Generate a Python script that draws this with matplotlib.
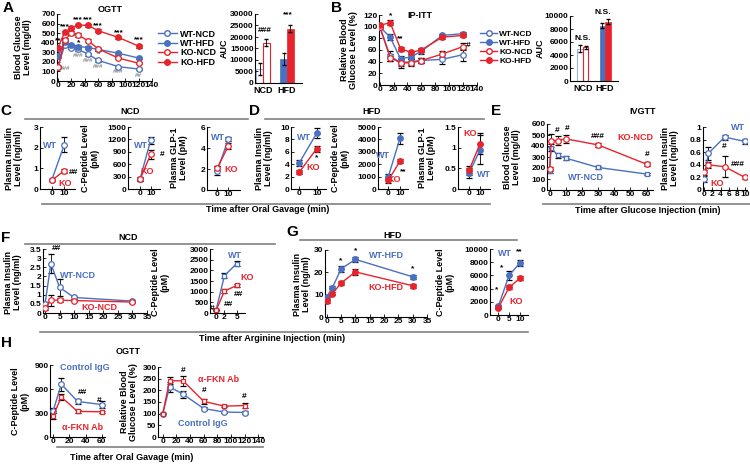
import matplotlib
matplotlib.use('Agg')
import matplotlib.pyplot as plt
from matplotlib.lines import Line2D

plt.rcParams['font.family'] = ['Liberation Sans', 'DejaVu Sans']
plt.rcParams['font.weight'] = 'bold'
plt.rcParams['axes.linewidth'] = 0.8

BLUE = '#4a70c0'
RED = '#e8232b'
W, H = 750, 466

# ---------------- data ----------------
# A: OGTT
a_t = [0, 10, 20, 30, 45, 60, 90, 120]
a_wt_ncd = [150, 375, 350, 330, 280, 215, 150, 125]
a_wt_ncd_err = [10, 20, 15, 15, 15, 12, 10, 10]
a_wt_hfd = [265, 405, 375, 360, 350, 330, 290, 240]
a_wt_hfd_err = [20, 20, 15, 15, 15, 15, 15, 15]
a_ko_ncd = [145, 430, 500, 480, 420, 335, 240, 185]
a_ko_ncd_err = [10, 20, 20, 20, 15, 15, 12, 10]
a_ko_hfd = [350, 510, 555, 585, 580, 525, 455, 365]
a_ko_hfd_err = [15, 15, 15, 15, 15, 15, 15, 15]
groups = ['NCD', 'HFD']
a_auc_wt = [6000, 10500]
a_auc_wt_err = [2500, 2500]
a_auc_ko = [17500, 23500]
a_auc_ko_err = [1500, 1500]

# B: IP-ITT
b_t = [0, 15, 30, 45, 60, 90, 120]
b_wt_ncd = [100, 50, 38, 40, 42, 44, 52]
b_wt_ncd_err = [2, 8, 6, 6, 4, 8, 10]
b_wt_hfd = [100, 82, 45, 48, 58, 85, 88]
b_wt_hfd_err = [2, 5, 4, 4, 4, 3, 3]
b_ko_ncd = [100, 47, 38, 38, 42, 53, 66]
b_ko_ncd_err = [2, 6, 8, 6, 5, 5, 6]
b_ko_hfd = [102, 107, 62, 56, 60, 82, 85]
b_ko_hfd_err = [2, 5, 4, 3, 3, 3, 3]
b_auc_wt = [5000, 8500]
b_auc_wt_err = [600, 400]
b_auc_ko = [5200, 9100]
b_auc_ko_err = [250, 400]

# C / D: oral gavage, 0 and 10 min
cd_t = [0, 10]
c1_wt, c1_wt_err = [0.42, 2.15], [0.05, 0.35]
c1_ko, c1_ko_err = [0.42, 0.88], [0.05, 0.1]
c2_wt, c2_wt_err = [240, 1180], [40, 80]
c2_ko, c2_ko_err = [230, 840], [30, 110]
c3_wt, c3_wt_err = [1.85, 4.85], [0.4, 0.2]
c3_ko, c3_ko_err = [2.1, 4.2], [0.2, 0.3]
d1_wt, d1_wt_err = [4.2, 9.0], [0.5, 0.8]
d1_ko, d1_ko_err = [2.7, 6.5], [0.3, 0.5]
d2_wt, d2_wt_err = [1000, 4100], [200, 450]
d2_ko, d2_ko_err = [700, 2250], [250, 150]
d3_wt, d3_wt_err = [0.38, 0.95], [0.12, 0.35]
d3_ko, d3_ko_err = [0.45, 1.1], [0.1, 0.25]

# E: IVGTT
e1_t = [0, 1, 5, 10, 30, 60]
e1_ko, e1_ko_err = [190, 450, 450, 465, 410, 235], [20, 60, 40, 35, 20, 20]
e1_wt, e1_wt_err = [175, 385, 315, 290, 205, 145], [20, 30, 20, 15, 10, 8]
e2_t = [0, 1, 5, 10]
e2_wt, e2_wt_err = [0.18, 0.58, 0.84, 0.77], [0.05, 0.1, 0.04, 0.04]
e2_ko, e2_ko_err = [0.28, 0.40, 0.37, 0.20], [0.04, 0.05, 0.17, 0.03]

# F / G: arginine
fg_t = [0, 2, 5, 10, 30]
f1_wt, f1_wt_err = [0.5, 2.7, 1.4, 0.85, 0.65], [0.1, 0.5, 0.45, 0.1, 0.05]
f1_ko, f1_ko_err = [0.25, 0.7, 0.7, 0.68, 0.6], [0.08, 0.3, 0.1, 0.05, 0.05]
f2_t = [0, 2, 5]
f2_wt, f2_wt_err = [150, 1750, 2320], [30, 120, 100]
f2_ko, f2_ko_err = [130, 1030, 1290], [30, 80, 80]
g1_wt, g1_wt_err = [9, 13.2, 21.5, 25.8, 18], [0.8, 0.8, 1.2, 1.0, 0.8]
g1_ko, g1_ko_err = [7, 10.5, 15.2, 20.2, 14], [0.6, 0.8, 0.8, 1.5, 1.0]
g2_t = [0, 5, 10]
g2_wt, g2_wt_err = [1300, 6000, 7900], [200, 700, 500]
g2_ko, g2_ko_err = [1050, 4200, 5550], [150, 300, 300]

# H: antibody OGTT
h1_t = [0, 10, 30, 60]
h1_ctrl, h1_ctrl_err = [330, 660, 445, 405], [30, 80, 30, 40]
h1_fkn, h1_fkn_err = [265, 500, 320, 315], [40, 40, 15, 10]
h2_t = [0, 10, 30, 60, 90, 120]
h2_ctrl, h2_ctrl_err = [100, 215, 183, 122, 107, 105], [3, 20, 15, 8, 5, 5]
h2_fkn, h2_fkn_err = [100, 242, 240, 153, 132, 135], [3, 15, 20, 10, 5, 12]

# ---------------- helpers ----------------
fig = plt.figure(figsize=(7.5, 4.66), dpi=100)


def px_ax(x0, y0, x1, y1):
    return fig.add_axes([x0 / W, 1 - y1 / H, (x1 - x0) / W, (y1 - y0) / H])


def ftext(x, y, s, size=6, color='black', **kw):
    kw.setdefault('ha', 'center')
    kw.setdefault('va', 'center')
    fig.text(x / W, 1 - y / H, s, fontsize=size, color=color, fontweight='bold', **kw)


def hline(x0, x1, y):
    fig.add_artist(Line2D([x0 / W, x1 / W], [1 - y / H, 1 - y / H],
                          transform=fig.transFigure, color='#808080', lw=1.2))


def style(ax, xlim, ylim, xticks, yticks):
    for s in ['top', 'right']:
        ax.spines[s].set_visible(False)
    ax.set_xlim(*xlim)
    ax.set_ylim(*ylim)
    ax.set_xticks(xticks, ['%g' % v for v in xticks])
    ax.set_yticks(yticks, ['%g' % v for v in yticks])
    ax.tick_params(labelsize=6, length=2, width=0.6, pad=1, direction='in')
    ax.patch.set_alpha(0)


def series(ax, x, y, err, color, filled, marker='o', ms=4):
    ax.errorbar(x, y, yerr=err, color=color, lw=1, marker=marker, ms=ms,
                mfc=color if filled else 'white', mec=color, mew=0.9,
                ecolor='black', elinewidth=0.6, capsize=2, capthick=0.6, zorder=3)


def auc(ax, wt, wt_err, ko, ko_err, ymax, step, bw):
    pos = [1, 2]
    ax.bar(pos[0] - bw / 2, wt[0], bw, yerr=wt_err[0], color='white', edgecolor='#9db3e0', lw=0.8,
           error_kw=dict(elinewidth=0.6, capsize=1.5))
    ax.bar(pos[0] + bw / 2, ko[0], bw, yerr=ko_err[0], color='white', edgecolor=RED, lw=0.8,
           error_kw=dict(elinewidth=0.6, capsize=1.5))
    ax.bar(pos[1] - bw / 2, wt[1], bw, yerr=wt_err[1], color=BLUE, edgecolor=BLUE, lw=0.5,
           error_kw=dict(elinewidth=0.6, capsize=1.5))
    ax.bar(pos[1] + bw / 2, ko[1], bw, yerr=ko_err[1], color=RED, edgecolor=RED, lw=0.5,
           error_kw=dict(elinewidth=0.6, capsize=1.5))
    for s in ['top', 'right']:
        ax.spines[s].set_visible(False)
    ax.set_ylim(0, ymax)
    yt = list(range(0, ymax + 1, step))
    ax.set_yticks(yt, [str(v) for v in yt])
    ax.set_xticks(pos, groups)
    ax.tick_params(axis='y', labelsize=6, length=2, width=0.6, pad=1, direction='in')
    ax.tick_params(axis='x', labelsize=6.5, length=0, pad=2)


# ---------------- A ----------------
ax = px_ax(57, 14, 152, 81)
series(ax, a_t, a_wt_ncd, a_wt_ncd_err, BLUE, False)
series(ax, a_t, a_wt_hfd, a_wt_hfd_err, BLUE, True)
series(ax, a_t, a_ko_ncd, a_ko_ncd_err, RED, False)
series(ax, a_t, a_ko_hfd, a_ko_hfd_err, RED, True)
style(ax, (-1.5, 140), (0, 700), list(range(0, 141, 20)), list(range(0, 701, 100)))
for x, y in [(3, 425), (10, 565), (30, 640), (45, 640), (60, 575), (90, 500), (120, 430)]:
    ax.text(x, y, '***', fontsize=6, ha='center', va='center')
for x, y in [(30, 395), (60, 290)]:
    ax.text(x, y, '*', fontsize=6, ha='center', va='center')
for x, y, s in [(10, 130, '###'), (30, 268, '###'), (45, 215, '###'), (60, 155, '###'),
                (90, 95, '###'), (120, 55, '##')]:
    ax.text(x, y, s, fontsize=4.5, color='#888888', ha='center', va='center')
handles = [Line2D([], [], color=BLUE, marker='o', ms=4, mfc='white', lw=1),
           Line2D([], [], color=BLUE, marker='o', ms=4, lw=1),
           Line2D([], [], color=RED, marker='o', ms=4, mfc='white', lw=1),
           Line2D([], [], color=RED, marker='o', ms=4, lw=1)]
fig.legend(handles, ['WT-NCD', 'WT-HFD', 'KO-NCD', 'KO-HFD'], frameon=False,
           fontsize=6.5, labelspacing=0.05, handlelength=2.2, handletextpad=0.3,
           loc='upper left', bbox_to_anchor=(153 / W, 1 - 25 / H), borderpad=0)
fig.legend(handles, ['WT-NCD', 'WT-HFD', 'KO-NCD', 'KO-HFD'], frameon=False,
           fontsize=6, labelspacing=0.15, handlelength=2.0, handletextpad=0.3,
           loc='upper left', bbox_to_anchor=(476 / W, 1 - 26 / H), borderpad=0)

ax = px_ax(255, 14, 302, 83)
auc(ax, a_auc_wt, a_auc_wt_err, a_auc_ko, a_auc_ko_err, 30000, 5000, 0.28)
ax.set_xlim(0.67, 2.62)

# ---------------- B ----------------
ax = px_ax(379, 15, 477, 85)
series(ax, b_t, b_wt_ncd, b_wt_ncd_err, BLUE, False)
series(ax, b_t, b_wt_hfd, b_wt_hfd_err, BLUE, True)
series(ax, b_t, b_ko_ncd, b_ko_ncd_err, RED, False)
series(ax, b_t, b_ko_hfd, b_ko_hfd_err, RED, True)
style(ax, (-1, 140), (0, 120), list(range(0, 141, 20)), list(range(0, 121, 20)))
ax.text(15, 119, '*', fontsize=6, ha='center', va='center')
ax.text(30, 79, '**', fontsize=6, ha='center', va='center')
ax.text(127, 68, '#', fontsize=6, ha='center', va='center')

ax = px_ax(570, 16, 618, 81)
auc(ax, b_auc_wt, b_auc_wt_err, b_auc_ko, b_auc_ko_err, 10000, 2000, 0.25)
ax.set_xlim(0.41, 2.59)

# ---------------- C ----------------
ax = px_ax(40, 127, 75, 189)
series(ax, cd_t, c1_wt, c1_wt_err, BLUE, False)
series(ax, cd_t, c1_ko, c1_ko_err, RED, False)
style(ax, (-9.3, 18.5), (0, 3), cd_t, [0, 1, 2, 3])
ax = px_ax(128, 127, 160, 189)
series(ax, cd_t, c2_wt, c2_wt_err, BLUE, False)
series(ax, cd_t, c2_ko, c2_ko_err, RED, False)
style(ax, (-11.2, 18.7), (0, 1500), cd_t, list(range(0, 1501, 300)))
ax = px_ax(207, 127, 240, 190)
series(ax, cd_t, c3_wt, c3_wt_err, BLUE, False)
series(ax, cd_t, c3_ko, c3_ko_err, RED, False)
style(ax, (-9.4, 20.6), (0, 6), cd_t, [0, 2, 4, 6])

# ---------------- D ----------------
ax = px_ax(291, 127, 326, 189)
series(ax, cd_t, d1_wt, d1_wt_err, BLUE, True)
series(ax, cd_t, d1_ko, d1_ko_err, RED, True)
style(ax, (-4.7, 15.3), (0, 10), cd_t, [0, 2, 4, 6, 8, 10])
ax = px_ax(378, 127, 408, 189)
series(ax, cd_t, d2_wt, d2_wt_err, BLUE, True)
series(ax, cd_t, d2_ko, d2_ko_err, RED, True)
style(ax, (-8.8, 16.8), (0, 5000), cd_t, list(range(0, 5001, 1000)))
ax = px_ax(458, 127, 490, 189)
series(ax, cd_t, d3_wt, d3_wt_err, BLUE, True)
series(ax, cd_t, d3_ko, d3_ko_err, RED, True)
style(ax, (-10, 19), (0, 1.5), cd_t, [0, 0.5, 1, 1.5])

# ---------------- E ----------------
ax = px_ax(547, 124, 653, 190)
series(ax, e1_t, e1_wt, e1_wt_err, BLUE, False, marker='s', ms=3.5)
series(ax, e1_t, e1_ko, e1_ko_err, RED, False)
style(ax, (-1.6, 64), (0, 600), list(range(0, 61, 10)), list(range(0, 601, 100)))
ax = px_ax(703, 127, 747, 190)
series(ax, e2_t, e2_wt, e2_wt_err, BLUE, False)
series(ax, e2_t, e2_ko, e2_ko_err, RED, False)
style(ax, (-0.3, 10.5), (0, 1), [0, 2, 4, 6, 8, 10], [0, 0.2, 0.4, 0.6, 0.8, 1])

# ---------------- F ----------------
ax = px_ax(43, 249, 147, 313)
series(ax, fg_t, f1_wt, f1_wt_err, BLUE, False)
series(ax, fg_t, f1_ko, f1_ko_err, RED, False)
style(ax, (-0.7, 35), (0, 3.5), list(range(0, 36, 5)), [0, 0.5, 1, 1.5, 2, 2.5, 3, 3.5])
ax = px_ax(210, 249, 245, 313)
series(ax, f2_t, f2_wt, f2_wt_err, BLUE, False, marker='s', ms=3.5)
series(ax, f2_t, f2_ko, f2_ko_err, RED, False, marker='s', ms=3.5)
style(ax, (-1.5, 7), (0, 3000), f2_t, list(range(0, 3001, 500)))

# ---------------- G ----------------
ax = px_ax(325, 250, 427, 317)
series(ax, fg_t, g1_wt, g1_wt_err, BLUE, True)
series(ax, fg_t, g1_ko, g1_ko_err, RED, True)
style(ax, (-0.6, 35), (0, 30), list(range(0, 36, 5)), [0, 10, 20, 30])
for x, y in [(5, 25), (10, 29.5), (30, 21.5)]:
    ax.text(x, y, '*', fontsize=6, ha='center', va='center')
ax = px_ax(490, 249, 528, 315)
series(ax, g2_t, g2_wt, g2_wt_err, BLUE, True)
series(ax, g2_t, g2_ko, g2_ko_err, RED, True)
style(ax, (-3.8, 13.7), (0, 10000), g2_t, list(range(0, 10001, 2000)))

# ---------------- H ----------------
ax = px_ax(50, 365, 105, 437)
series(ax, h1_t, h1_ctrl, h1_ctrl_err, BLUE, False)
series(ax, h1_t, h1_fkn, h1_fkn_err, RED, False, marker='s', ms=3.5)
style(ax, (-4, 64), (0, 900), [0, 20, 40, 60], [0, 300, 600, 900])
ax = px_ax(158, 367, 263, 437)
series(ax, h2_t, h2_ctrl, h2_ctrl_err, BLUE, False)
series(ax, h2_t, h2_fkn, h2_fkn_err, RED, False, marker='s', ms=3.5)
style(ax, (-7, 147), (0, 300), list(range(0, 141, 20)), list(range(0, 301, 50)))
for x, y in [(30, 285), (60, 200), (120, 172)]:
    ax.text(x, y, '#', fontsize=6, ha='center', va='center')

# ---------------- panel letters, titles, labels ----------------
for x, y, s in [(8, 8, 'A'), (337, 8, 'B'), (6, 111, 'C'), (254, 111, 'D'), (496, 111, 'E'),
                (6, 238, 'F'), (292, 232, 'G'), (6, 343, 'H')]:
    ftext(x, y, s, size=11)

for x, y, s in [(110, 9, 'OGTT'), (420, 15, 'IP-ITT'), (130, 111, 'NCD'), (372, 111, 'HFD'),
                (643, 111, 'IVGTT'), (128, 238, 'NCD'), (393, 236, 'HFD'), (128, 352, 'OGTT')]:
    ftext(x, y, s, size=6.5)

hline(25, 248, 118.5)
hline(265, 484, 118.5)
hline(42, 490, 203.5)
hline(543, 750, 203.5)
hline(25, 275, 244)
hline(300, 517, 240)
hline(40, 528, 332)
hline(57, 263, 447)
ftext(268, 210, 'Time after Oral Gavage (min)', size=6.5)
ftext(648, 211, 'Time after Glucose Injection (min)', size=6.5)
ftext(272, 338.5, 'Time after Arginine Injection (min)', size=6.5)
ftext(132, 457, 'Time after Oral Gavage (min)', size=6.5)

ins = 'Plasma Insulin\nLevel (ng/ml)'
cpep = 'C-Peptide Level\n(pM)'
glp = 'Plasma GLP-1\nLevel (pM)'
rbg = 'Relative Blood\nGlucose Level (%)'
for x, y, s in [(23, 47, 'Blood Glucose\nLevel (mg/dl)'), (224, 48, 'AUC'), (349, 50, rbg),
                (540, 48, 'AUC'), (14, 158, ins), (90, 158, cpep), (179, 158, glp),
                (264, 158, ins), (340, 158, cpep), (427, 158, glp),
                (512, 157, 'Blood Glucose\nLevel (mg/dl)'), (670, 158, ins),
                (13, 282, ins), (160, 282, cpep), (302, 284, ins), (445, 282, cpep),
                (20, 401, cpep), (129, 402, rbg)]:
    ftext(x, y, s, size=6.5, rotation=90, linespacing=1.0)

# in-plot annotations
for x, y, s, c in [
        (265, 30, '###', 'black'), (288, 15, '***', 'black'),
        (583, 38, 'N.S.', 'black'), (603, 12, 'N.S.', 'black'),
        (50, 145, 'WT', BLUE), (65, 183, 'KO', RED), (73, 172, '##', 'black'),
        (141, 145, 'WT', BLUE), (147, 172, 'KO', RED), (162, 154, '#', 'black'),
        (218, 137, 'WT', BLUE), (231, 170, 'KO', RED),
        (304, 138, 'WT', BLUE), (313, 167, 'KO', RED), (316.7, 158, '*', 'black'),
        (383, 156, 'WT', BLUE), (394, 180, 'KO', RED), (403, 172, '**', 'black'),
        (470, 134, 'KO', RED), (484, 175, 'WT', BLUE),
        (635, 138, 'KO-NCD', RED), (586, 178, 'WT-NCD', BLUE),
        (557, 130, '#', 'black'), (567, 128, '#', 'black'), (598, 136, '###', 'black'),
        (647, 154, '#', 'black'),
        (738, 127, 'WT', BLUE), (717, 183, 'KO', RED), (724, 147, '#', 'black'),
        (738, 164, '###', 'black'),
        (78, 276, 'WT-NCD', BLUE), (99, 308, 'KO-NCD', RED), (56, 249, '##', 'black'),
        (235, 255, 'WT', BLUE), (247, 277, 'KO', RED), (238, 295, '##', 'black'),
        (228, 305, '##', 'black'), (212, 308, '#', 'black'),
        (386, 255, 'WT-HFD', BLUE), (386, 287, 'KO-HFD', RED),
        (505, 253, 'WT', BLUE), (519, 252, '**', 'black'), (502, 268, '*', 'black'),
        (497, 290, '*', 'black'), (516, 301, 'KO', RED),
        (85, 368, 'Control IgG', BLUE), (82.5, 427, 'α-FKN Ab', RED),
        (82, 392, '##', 'black'), (99, 400, '#', 'black'),
        (218.5, 380, 'α-FKN Ab', RED), (202.5, 423, 'Control IgG', BLUE)]:
    ftext(x, y, s, size=6.5 if c != 'black' else 6, color=c)

fig.savefig('out.png', dpi=100)
plt.close(fig)
